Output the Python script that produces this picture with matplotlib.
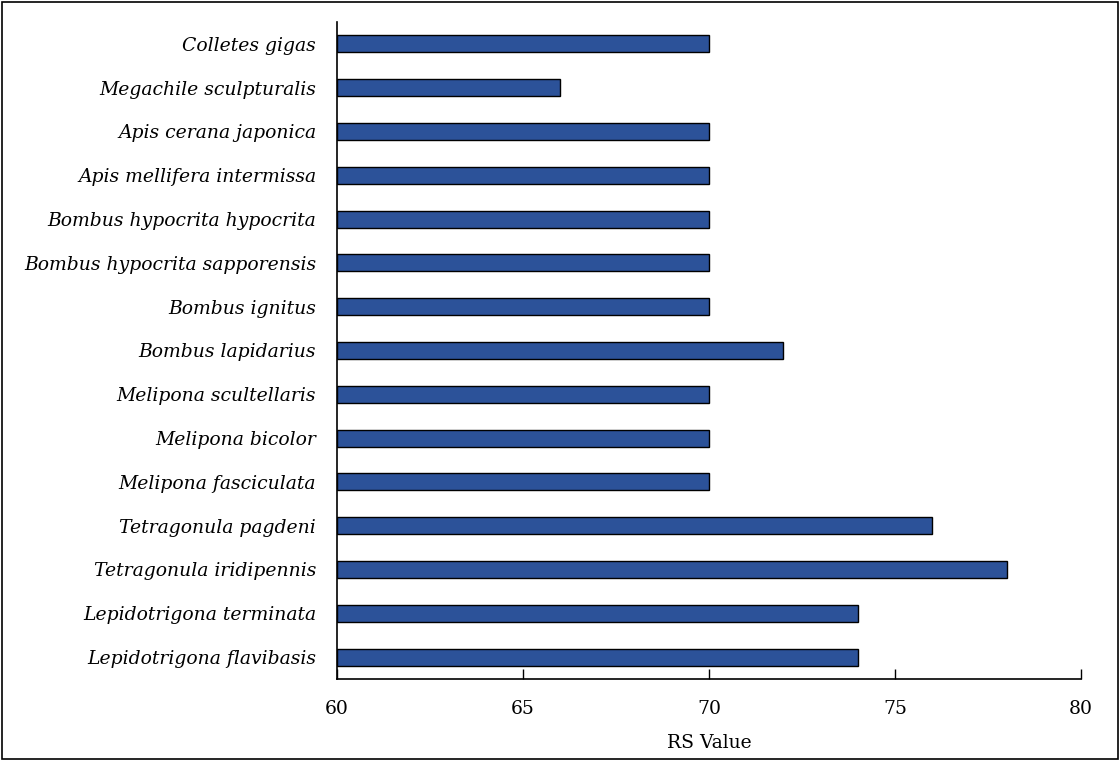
import matplotlib
matplotlib.use("Agg")
import matplotlib.pyplot as plt
from matplotlib.patches import Rectangle

species = [
    "Colletes gigas",
    "Megachile sculpturalis",
    "Apis cerana japonica",
    "Apis mellifera intermissa",
    "Bombus hypocrita hypocrita",
    "Bombus hypocrita sapporensis",
    "Bombus ignitus",
    "Bombus lapidarius",
    "Melipona scultellaris",
    "Melipona bicolor",
    "Melipona fasciculata",
    "Tetragonula pagdeni",
    "Tetragonula iridipennis",
    "Lepidotrigona terminata",
    "Lepidotrigona flavibasis",
]
rs_values = [70, 66, 70, 70, 70, 70, 70, 72, 70, 70, 70, 76, 78, 74, 74]
x_ticks = [60, 65, 70, 75, 80]
x_label = "RS Value"

plt.rcParams["font.family"] = ["DejaVu Serif"]

fig = plt.figure(figsize=(11.2, 7.61), dpi=100)
ax = fig.add_axes([0.3009, 0.1078, 0.6643, 0.8633])

n = len(species)
ypos = list(range(n - 1, -1, -1))
ax.barh(ypos, [v - 60 for v in rs_values], left=60, height=0.39,
        color="#2C5299", edgecolor="black", linewidth=1.0)

ax.set_xlim(60, 80)
ax.set_ylim(-0.5, n - 0.5)
ax.set_yticks(ypos)
ax.set_yticklabels(species, fontstyle="italic", fontsize=13.5)
ax.set_xticks(x_ticks)
ax.set_xticklabels([str(t) for t in x_ticks], fontsize=13.5)
ax.tick_params(axis="y", length=0, pad=15)
ax.tick_params(axis="x", direction="in", length=7, width=1, pad=15)
ax.set_xlabel(x_label, fontsize=13.5, labelpad=12)

for s in ["top", "right"]:
    ax.spines[s].set_visible(False)
for s in ["left", "bottom"]:
    ax.spines[s].set_linewidth(1.2)

fig.patches.append(Rectangle((0.002, 0.002), 0.996, 0.996, transform=fig.transFigure,
                             fill=False, edgecolor="black", linewidth=1.2))

fig.savefig("out.png", dpi=100)
